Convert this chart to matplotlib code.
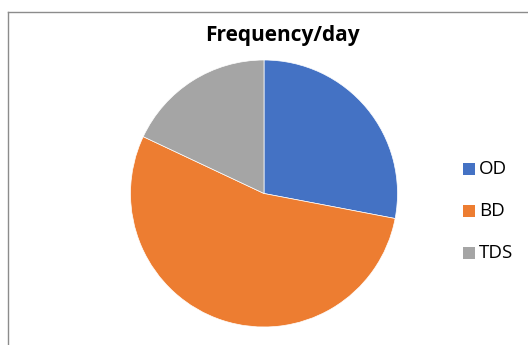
import matplotlib
matplotlib.use("Agg")
import matplotlib.pyplot as plt
from matplotlib.lines import Line2D
from matplotlib.patches import Rectangle

labels = ["OD", "BD", "TDS"]
values = [28, 54, 18]
colors = ["#4472C4", "#ED7D31", "#A5A5A5"]
title = "Frequency/day"

W, H = 528, 345
fig = plt.figure(figsize=(W / 100, H / 100), dpi=100)
plt.rcParams['font.family'] = ['Open Sans', 'DejaVu Sans']

# chart frame (cropped: only left and top edges visible)
fig.add_artist(Line2D([8 / W, 8 / W], [0, 1 - 12 / H], color="#8c8c8c", lw=1.0))
fig.add_artist(Line2D([8 / W, 1], [1 - 12 / H, 1 - 12 / H], color="#8c8c8c", lw=1.0))

cx, cy, r = 264, 193.5, 133.5
ax = fig.add_axes([(cx - r) / W, (H - cy - r) / H, 2 * r / W, 2 * r / H])
ax.pie(values, colors=colors, startangle=90, counterclock=False, radius=1,
       wedgeprops=dict(edgecolor="white", linewidth=0.5))
ax.set_xlim(-1, 1)
ax.set_ylim(-1, 1)
ax.set_aspect("auto")
ax.axis("off")

fig.text(282.5 / W, 1 - 35 / H, title, ha="center", va="center",
         fontsize=15, fontweight="bold", color="black")

# legend
for i, (lab, col) in enumerate(zip(labels, colors)):
    yc = 169 + 42 * i
    fig.add_artist(Rectangle((463 / W, 1 - (yc + 6) / H), 12 / W, 12 / H,
                             transform=fig.transFigure, color=col, lw=0))
    fig.text(479 / W, 1 - yc / H, lab, ha="left", va="center",
             fontsize=13.5, color="black")

fig.savefig("out.png", dpi=100)
